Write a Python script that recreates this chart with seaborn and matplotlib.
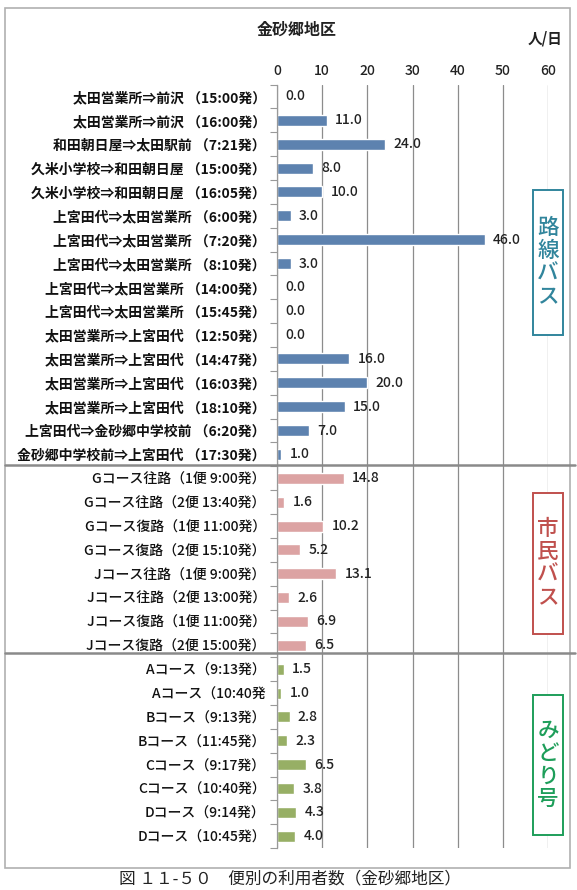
import pandas as pd
import seaborn as sns
import matplotlib.pyplot as plt
from matplotlib.patches import Rectangle
from matplotlib.lines import Line2D

# 路線バス / 市民バス / みどり号 の便別利用者数（人/日）
route_labels = [
    '太田営業所⇒前沢 （15:00発）',
    '太田営業所⇒前沢 （16:00発）',
    '和田朝日屋⇒太田駅前 （7:21発）',
    '久米小学校⇒和田朝日屋 （15:00発）',
    '久米小学校⇒和田朝日屋 （16:05発）',
    '上宮田代⇒太田営業所 （6:00発）',
    '上宮田代⇒太田営業所 （7:20発）',
    '上宮田代⇒太田営業所 （8:10発）',
    '上宮田代⇒太田営業所 （14:00発）',
    '上宮田代⇒太田営業所 （15:45発）',
    '太田営業所⇒上宮田代 （12:50発）',
    '太田営業所⇒上宮田代 （14:47発）',
    '太田営業所⇒上宮田代 （16:03発）',
    '太田営業所⇒上宮田代 （18:10発）',
    '上宮田代⇒金砂郷中学校前 （6:20発）',
    '金砂郷中学校前⇒上宮田代 （17:30発）',
]
route_values = [0.0, 11.0, 24.0, 8.0, 10.0, 3.0, 46.0, 3.0,
                0.0, 0.0, 0.0, 16.0, 20.0, 15.0, 7.0, 1.0]

civic_labels = [
    'Gコース往路（1便 9:00発）',
    'Gコース往路（2便 13:40発）',
    'Gコース復路（1便 11:00発）',
    'Gコース復路（2便 15:10発）',
    'Jコース往路（1便 9:00発）',
    'Jコース往路（2便 13:00発）',
    'Jコース復路（1便 11:00発）',
    'Jコース復路（2便 15:00発）',
]
civic_values = [14.8, 1.6, 10.2, 5.2, 13.1, 2.6, 6.9, 6.5]

midori_labels = [
    'Aコース（9:13発）',
    'Aコース（10:40発',
    'Bコース（9:13発）',
    'Bコース（11:45発）',
    'Cコース（9:17発）',
    'Cコース（10:40発）',
    'Dコース（9:14発）',
    'Dコース（10:45発）',
]
midori_values = [1.5, 1.0, 2.8, 2.3, 6.5, 3.8, 4.3, 4.0]

groups = ['路線バス', '市民バス', 'みどり号']
bar_colors = ['#4F81BD', '#E6999A', '#9BBB59']
box_colors = ['#31859C', '#C0504D', '#1E9E5A']
xticks = [0, 10, 20, 30, 40, 50, 60]

df = pd.DataFrame({
    'label': route_labels + civic_labels + midori_labels,
    'value': route_values + civic_values + midori_values,
    'group': [groups[0]] * len(route_labels) + [groups[1]] * len(civic_labels)
             + [groups[2]] * len(midori_labels),
})

sns.set_theme(style='white')
plt.rcParams['font.family'] = ['Noto Sans CJK JP', 'DejaVu Sans']

fig = plt.figure(figsize=(5.77, 8.9), dpi=100)
ax = fig.add_axes([0.480, 0.047, 0.470, 0.858])

sns.barplot(data=df, x='value', y='label', hue='group', palette=bar_colors,
            hue_order=groups, dodge=False, width=0.46, legend=False, ax=ax,
            orient='h')

for cont in ax.containers:
    ax.bar_label(cont, fmt='%.1f', padding=6, fontsize=10, color='#222222',
                 fontweight='medium')

ax.set_xlim(0, 60)
ax.set_xticks(xticks)
ax.xaxis.tick_top()
ax.tick_params(axis='x', length=0, labelsize=10, pad=5, labelcolor='#222222')
ax.tick_params(axis='y', length=0, labelsize=10, pad=8, labelcolor='#111111')
for t in ax.get_xticklabels():
    t.set_fontweight('medium')
for t, g in zip(ax.get_yticklabels(), df['group']):
    t.set_fontweight('bold' if g == groups[0] else 'medium')
ax.set_yticks([i + 0.5 for i in range(-1, len(df))], minor=True)
ax.tick_params(axis='y', which='minor', left=True, length=5, width=0.8, color='#999999')
ax.set_ylim(len(df) - 0.5, -0.5)
ax.set_xlabel('')
ax.set_ylabel('')
ax.grid(axis='x', color='#8c8c8c', linewidth=0.9)
ax.set_axisbelow(True)
for s in ['top', 'right', 'bottom']:
    ax.spines[s].set_visible(False)
ax.spines['left'].set_color('#999999')
ax.spines['left'].set_linewidth(0.9)

# outer frame
fig.patches.append(Rectangle((5 / 577, 1 - 868 / 890), 565 / 577, 860 / 890,
                             transform=fig.transFigure, fill=False,
                             edgecolor='#b0b0b0', linewidth=1.2))

# group separators across the whole frame
for y in [465, 653]:
    fig.lines.append(Line2D([5 / 577, 575 / 577], [1 - y / 890, 1 - y / 890],
                            transform=fig.transFigure, color='#8a8a8a', linewidth=1.8))

fig.text(297 / 577, 1 - 30 / 890, '金砂郷地区', ha='center', va='center',
         fontsize=11.5, fontweight='bold', color='#222222')
fig.text(545 / 577, 1 - 38 / 890, '人/日', ha='center', va='center',
         fontsize=10.5, fontweight='bold', color='#222222')

# side group labels
boxes = [(190, 335), (493, 634), (695, 835)]
for (y0, y1), name, col in zip(boxes, groups, box_colors):
    fig.patches.append(Rectangle((533 / 577, 1 - y1 / 890), 30 / 577, (y1 - y0) / 890,
                                 transform=fig.transFigure, facecolor='white',
                                 edgecolor=col, linewidth=1.4, zorder=5))
    fig.text(548 / 577, 1 - (y0 + y1) / 2 / 890, '\n'.join(name), ha='center',
             va='center', fontsize=15.5, color=col, linespacing=1.05, zorder=6,
             fontweight='medium')

fig.text(290 / 577, 1 - 879 / 890, '図 １１-５０　便別の利用者数（金砂郷地区）',
         ha='center', va='center', fontsize=12, color='#222222')

fig.savefig('out.png', dpi=100, facecolor='white')
